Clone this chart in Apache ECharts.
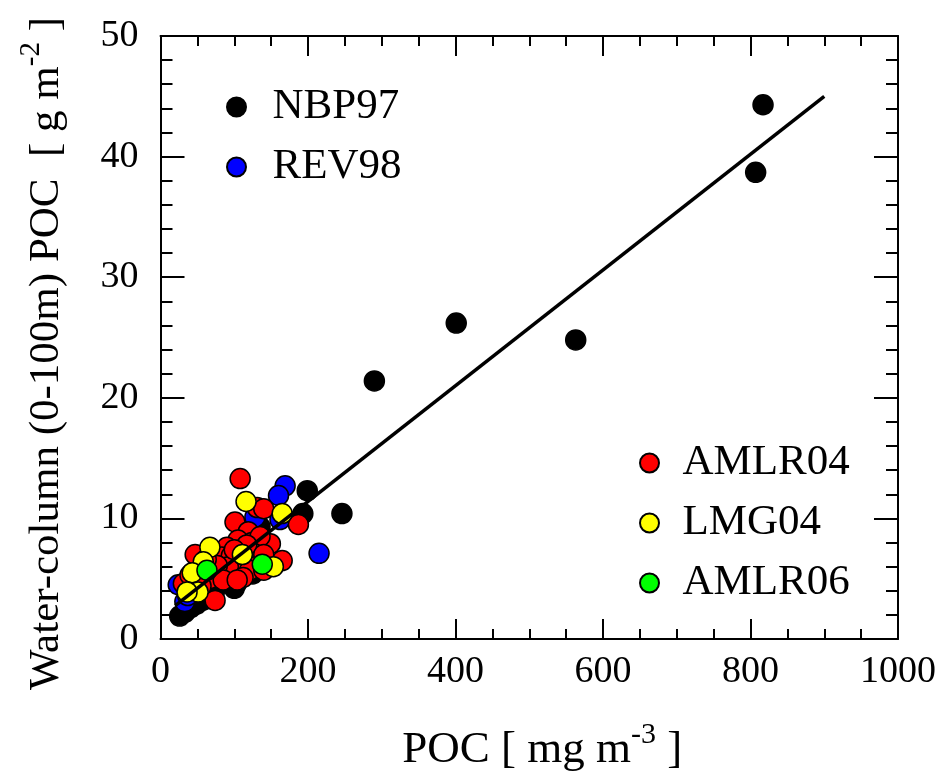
<!DOCTYPE html>
<html>
<head>
<meta charset="utf-8">
<script src="https://cdn.jsdelivr.net/npm/echarts@6/dist/echarts.min.js"></script>
<style>
  html, body { margin: 0; padding: 0; background: #fff; }
  #chart { width: 941px; height: 774px; }
</style>
</head>
<body>
<div id="chart"></div>
<script>
// POC [mg m-3] vs water-column integrated POC [g m-2], by cruise
const nbp97 = [
  [817, 44.3], [807, 38.7], [563, 24.8], [401, 26.2], [290, 21.4],
  [246, 10.4], [199, 12.3], [193, 10.4], [135, 9.3],
  [26, 1.9], [33, 2.2], [41, 2.6], [49, 2.9], [57, 3.2], [64, 3.5],
  [73, 3.9], [100, 4.2], [103, 4.6], [125, 5.4]
];
const rev98 = [
  [169, 12.7], [160, 11.9], [128, 10.1], [162, 9.9], [215, 7.1],
  [24, 4.5], [33, 3.1], [37, 3.6]
];
const amlr04 = [
  [108, 13.3], [131, 10.9], [140, 10.8], [187, 9.5], [101, 9.7],
  [119, 8.9], [105, 8.2], [124, 8.0], [149, 7.9], [135, 8.5],
  [90, 7.6], [47, 7.0], [83, 6.8], [96, 6.9], [126, 7.1],
  [117, 7.8], [165, 6.5], [128, 6.0], [108, 6.1], [92, 6.0],
  [77, 6.1], [121, 5.7], [112, 5.1], [31, 4.6], [67, 5.0],
  [85, 4.9], [104, 4.9], [74, 3.2], [58, 5.8], [40, 5.3],
  [140, 5.7], [55, 4.4], [100, 7.4], [140, 7.0], [62, 6.6]
];
const lmg04 = [
  [116, 11.4], [165, 10.4], [111, 7.0], [67, 7.6], [58, 6.4],
  [43, 5.5], [51, 3.9], [36, 3.9], [153, 6.0]
];
const amlr06 = [
  [138, 6.2], [63, 5.7]
];
// regression line end points
const fitLine = [[20, 2.76], [900, 45.0]];

const xTicks = { min: 0, max: 1000, step: 200 };
const yTicks = { min: 0, max: 50, step: 10 };

const FONT = 'Liberation Serif';

function scatter(name, data, color) {
  return {
    name: name,
    type: 'scatter',
    data: data,
    symbol: 'circle',
    symbolSize: 20,
    itemStyle: { color: color, borderColor: '#000', borderWidth: 1.5, opacity: 1 },
    emphasis: { disabled: true }
  };
}

const axisLineStyle = { color: '#000', width: 2 };

function xAxisDef(pos) {
  return {
    type: 'value', position: pos,
    min: xTicks.min, max: xTicks.max, interval: xTicks.step,
    axisLine: { show: true, onZero: false, lineStyle: axisLineStyle },
    axisTick: { show: true, inside: true, length: 20, lineStyle: axisLineStyle },
    minorTick: { show: true, splitNumber: 4, length: 10, lineStyle: axisLineStyle },
    splitLine: { show: false },
    axisLabel: {
      show: pos === 'bottom', fontFamily: FONT, fontSize: 38, color: '#000', margin: 14,
      formatter: function (v) { return String(v); }
    }
  };
}
function yAxisDef(pos) {
  return {
    type: 'value', position: pos,
    min: yTicks.min, max: yTicks.max, interval: yTicks.step,
    axisLine: { show: true, onZero: false, lineStyle: axisLineStyle },
    axisTick: { show: true, inside: true, length: 24, lineStyle: axisLineStyle },
    minorTick: { show: true, splitNumber: 5, length: 12, lineStyle: axisLineStyle },
    splitLine: { show: false },
    axisLabel: {
      show: pos === 'left', fontFamily: FONT, fontSize: 38, color: '#000', margin: 22,
      formatter: function (v) { return String(v); }
    }
  };
}

const xMain = xAxisDef('bottom');
xMain.name = 'POC [ mg m{s|-3} ]';
xMain.nameLocation = 'middle';
xMain.nameGap = 81;
xMain.nameTextStyle = {
  fontFamily: FONT, fontSize: 45, color: '#000', lineHeight: 60,
  padding: [0, 0, 0, 26],
  rich: { s: { fontFamily: FONT, fontSize: 30, lineHeight: 30, verticalAlign: 'top', color: '#000' } }
};

const yMain = yAxisDef('left');
yMain.name = 'Water-column (0-100m) POC  [ g m{s|-2} ]';
yMain.nameLocation = 'middle';
yMain.nameGap = 84;
yMain.nameRotate = 90;
yMain.nameTextStyle = {
  fontFamily: FONT, fontSize: 43, color: '#000', lineHeight: 60,
  padding: [0, 32, 0, 0],
  rich: { s: { fontFamily: FONT, fontSize: 29, lineHeight: 29, verticalAlign: 'top', color: '#000' } }
};

const chart = echarts.init(document.getElementById('chart'), null, { renderer: 'canvas' });
chart.setOption({
  animation: false,
  backgroundColor: '#fff',
  grid: {
    left: 160.5, right: 43, top: 36, bottom: 135,
    containLabel: false, outerBoundsMode: 'none'
  },
  xAxis: [xMain, xAxisDef('top')],
  yAxis: [yMain, yAxisDef('right')],
  legend: [
    {
      data: ['NBP97', 'REV98'],
      orient: 'vertical', left: 221, top: 80,
      itemWidth: 62, itemHeight: 19, itemGap: 16,
      icon: 'circle',
      textStyle: { fontFamily: FONT, fontSize: 43, color: '#000', lineHeight: 44 },
      selectedMode: false
    },
    {
      data: ['AMLR04', 'LMG04', 'AMLR06'],
      orient: 'vertical', left: 634, top: 436,
      itemWidth: 56, itemHeight: 19, itemGap: 16,
      icon: 'circle',
      textStyle: { fontFamily: FONT, fontSize: 43, color: '#000', lineHeight: 44 },
      selectedMode: false
    }
  ],
  series: [
    scatter('NBP97', nbp97, '#000000'),
    scatter('REV98', rev98, '#0000ff'),
    scatter('AMLR04', amlr04, '#ff0000'),
    scatter('LMG04', lmg04, '#ffff00'),
    scatter('AMLR06', amlr06, '#00ff00'),
    {
      name: 'fit',
      type: 'line',
      data: fitLine,
      showSymbol: false,
      symbol: 'none',
      z: 5,
      silent: true,
      lineStyle: { color: '#000', width: 3.5 }
    }
  ]
});
</script>
</body>
</html>
